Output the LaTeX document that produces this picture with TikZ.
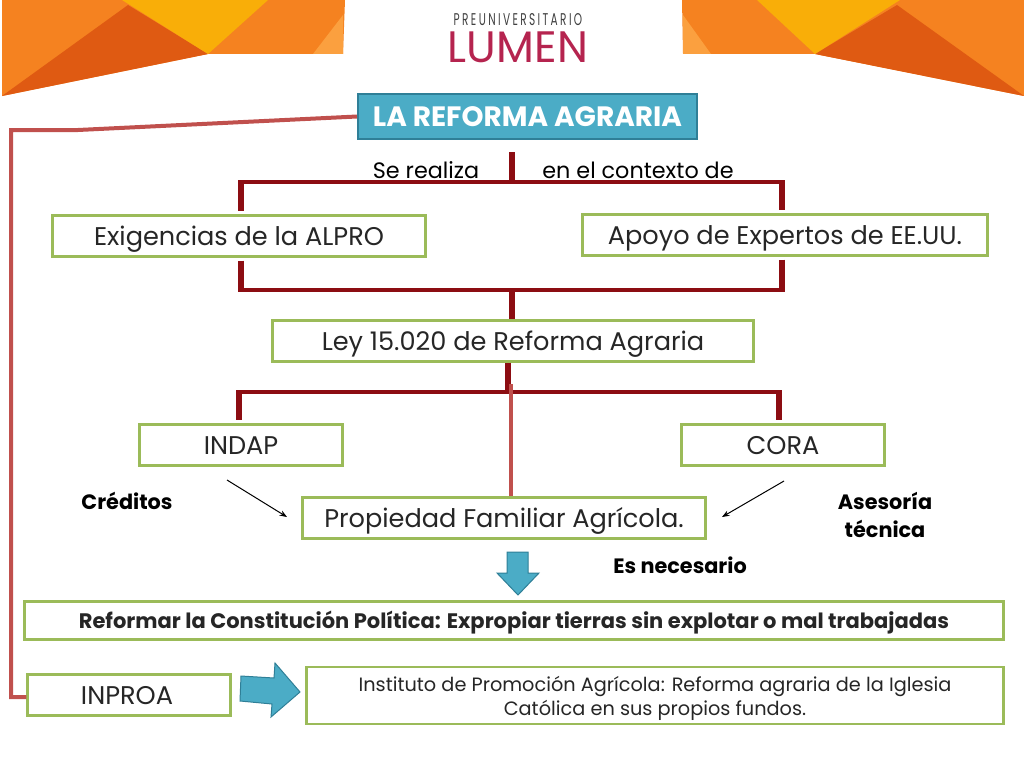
\documentclass[tikz,border=0pt]{standalone}
\usepackage{fontspec}
\setmainfont{Poppins}
\newfontfamily\logofont[FakeStretch=0.62,LetterSpace=14]{Poppins}
\usepackage{xcolor}
\usetikzlibrary{arrows.meta}
\definecolor{naranja}{HTML}{F58220}
\definecolor{naranjaosc}{HTML}{DF5A12}
\definecolor{amarillo}{HTML}{F9AE08}
\definecolor{naranjacla}{HTML}{FBA03F}
\definecolor{guinda}{HTML}{8C0D12}
\definecolor{rojizo}{HTML}{C0504D}
\definecolor{verde}{HTML}{9BBB59}
\definecolor{celeste}{HTML}{4BACC6}
\definecolor{celesteosc}{HTML}{2F7F97}
\definecolor{logorojo}{HTML}{B5244F}
\tikzset{
  caja/.style={draw=verde, line width=2.2pt, fill=white, inner sep=0pt, align=center, text=black!85},
  grande/.style={font=\fontsize{25.6}{30}\selectfont, text height=18pt, text depth=0pt},
  rotulo/.style={inner sep=0pt, align=center, font=\fontsize{20.8}{28}\selectfont\bfseries},
  tronco/.style={guinda, line width=6.5pt},
  rama/.style={guinda, line width=4pt},
  pata/.style={guinda, line width=6pt},
  enlace/.style={rojizo, line width=4pt},
  bloque/.style={fill=celeste, draw=celesteosc, line width=1pt}
}
\begin{document}
\begin{tikzpicture}[x=1pt,y=-1pt]
    \useasboundingbox (0,0) rectangle (1024,768);
    % banda izquierda
    \fill[naranja] (2,0) to (345,0) to (343,54) to (208,54) to (2,96) to cycle;
    \fill[naranjaosc] (2,96) to (128,5) to (208,54) to cycle;
    \fill[amarillo] (122,0) to (268,0) to (208,54) to cycle;
    \fill[naranjacla] (313,54) to (343,54) to (343,15) to cycle;
    % banda derecha
    \fill[naranja] (682,0) to (1024,0) to (1024,96) to (815,54) to (683,54) to cycle;
    \fill[naranjaosc] (815,54) to (897,5) to (1024,96) to cycle;
    \fill[amarillo] (757,0) to (900,0) to (815,54) to cycle;
    \fill[naranjacla] (683,15) to (683,54) to (711,54) to cycle;
    % logo
    \node[inner sep=0pt, text=black!75, font=\logofont\fontsize{17}{17}\selectfont] (preu) at (518,19.5) {PREUNIVERSITARIO};
    \node[inner sep=0pt, text=logorojo, font=\fontsize{44}{44}\selectfont] (lumen) at (518,47) {LUMEN};

    % cajas
    \node[fill=celeste, draw=celesteosc, line width=2pt, minimum width=339pt, minimum height=45pt, inner sep=0pt, text=white, font=\fontsize{28}{32}\selectfont\bfseries, text height=20pt, text depth=0pt] (reforma) at (527.5,116.5) {LA REFORMA AGRARIA};
    \node[caja, grande, minimum width=373pt, minimum height=41pt] (alpro) at (239,236) {Exigencias de la ALPRO};
    \node[caja, grande, minimum width=405pt, minimum height=41pt] (expertos) at (785,235) {Apoyo de Expertos de EE.UU.};
    \node[caja, grande, minimum width=481pt, minimum height=41pt] (ley) at (513,341) {Ley 15.020 de Reforma Agraria};
    \node[caja, grande, minimum width=203pt, minimum height=41pt] (indap) at (241,445) {INDAP};
    \node[caja, grande, minimum width=203pt, minimum height=41pt] (cora) at (783,445) {CORA};
    \node[caja, grande, minimum width=403pt, minimum height=41pt] (propiedad) at (504,518) {Propiedad Familiar Agrícola.};
    \node[caja, minimum width=979pt, minimum height=38pt, font=\fontsize{21}{25}\selectfont\bfseries, text height=16pt, text depth=0pt] (constitucion) at (514,620.5) {Reformar la Constitución Política: Expropiar tierras sin explotar o mal trabajadas};
    \node[caja, grande, minimum width=203pt, minimum height=41pt] (inproa) at (129,695) {\hspace*{-4pt}INPROA};
    \node[caja, minimum width=697pt, minimum height=57pt, font=\fontsize{19.3}{24}\selectfont, text depth=0pt] (instituto) at (655,695.5) {Instituto de Promoción Agrícola: Reforma agraria de la Iglesia\\Católica en sus propios fundos.};

    % rotulos
    \node[inner sep=0pt, font=\fontsize{22.3}{26}\selectfont] (realiza) at (426,170) {Se realiza};
    \node[inner sep=0pt, font=\fontsize{22.3}{26}\selectfont] (contexto) at (638,170) {en el contexto de};
    \node[rotulo] (creditos) at (127,501) {Créditos};
    \node[rotulo] (asesoria) at (885,515) {Asesoría\\técnica};
    \node[rotulo] (necesario) at (680,565) {Es necesario};

    % troncos y ramas
    \coordinate (arriba) at (512,182);
    \coordinate (abajo) at (512,290);
    \coordinate (medio) at (508,392);
    \coordinate (cruce) at (511,384);
    \draw[tronco] (512,152) to (arriba);
    \draw[rama] (241,182) to (782,182);
    \draw[pata, shorten >=3pt] (241,180) to (alpro.north -| 241,0);
    \draw[pata, shorten >=3pt] (782,180) to (expertos.north -| 782,0);
    \draw[rama] (241,290) to (782,290);
    \draw[pata, shorten <=3pt] (alpro.south -| 241,0) to (241,292);
    \draw[pata, shorten <=3pt] (expertos.south -| 782,0) to (782,292);
    \draw[tronco] (abajo) to (ley.north -| abajo);
    \draw[tronco] (ley.south -| medio) to (medio);
    \draw[rama] (239,392) to (779,392);
    \draw[pata, shorten >=3pt] (239,390) to (indap.north -| 239,0);
    \draw[pata, shorten >=3pt] (779,390) to (cora.north -| 779,0);
    \draw[enlace] (cruce) to (propiedad.north -| cruce);
    \draw[enlace, line join=miter] (reforma.west) to (78,130) to (11,130) to (11,697) to (inproa.west |- 0,697);

    % flechas finas
    \coordinate (izqa) at (227,480);
    \coordinate (izqb) at (287,517);
    \coordinate (dera) at (784,481);
    \coordinate (derb) at (722,517);
    \draw[-Stealth, line width=1pt] (izqa) to (izqb);
    \draw[-Stealth, line width=1pt] (dera) to (derb);

    % flechas de bloque
    \draw[bloque] (507,552) to (528,552) to (528,573) to (539,573) to (518,595) to (497,573) to (507,573) to cycle;
    \draw[bloque] (241,676) to (274,678) to (275,663) to (300,692) to (271,717) to (272,704) to (240,701) to cycle;
\end{tikzpicture}
\end{document}
